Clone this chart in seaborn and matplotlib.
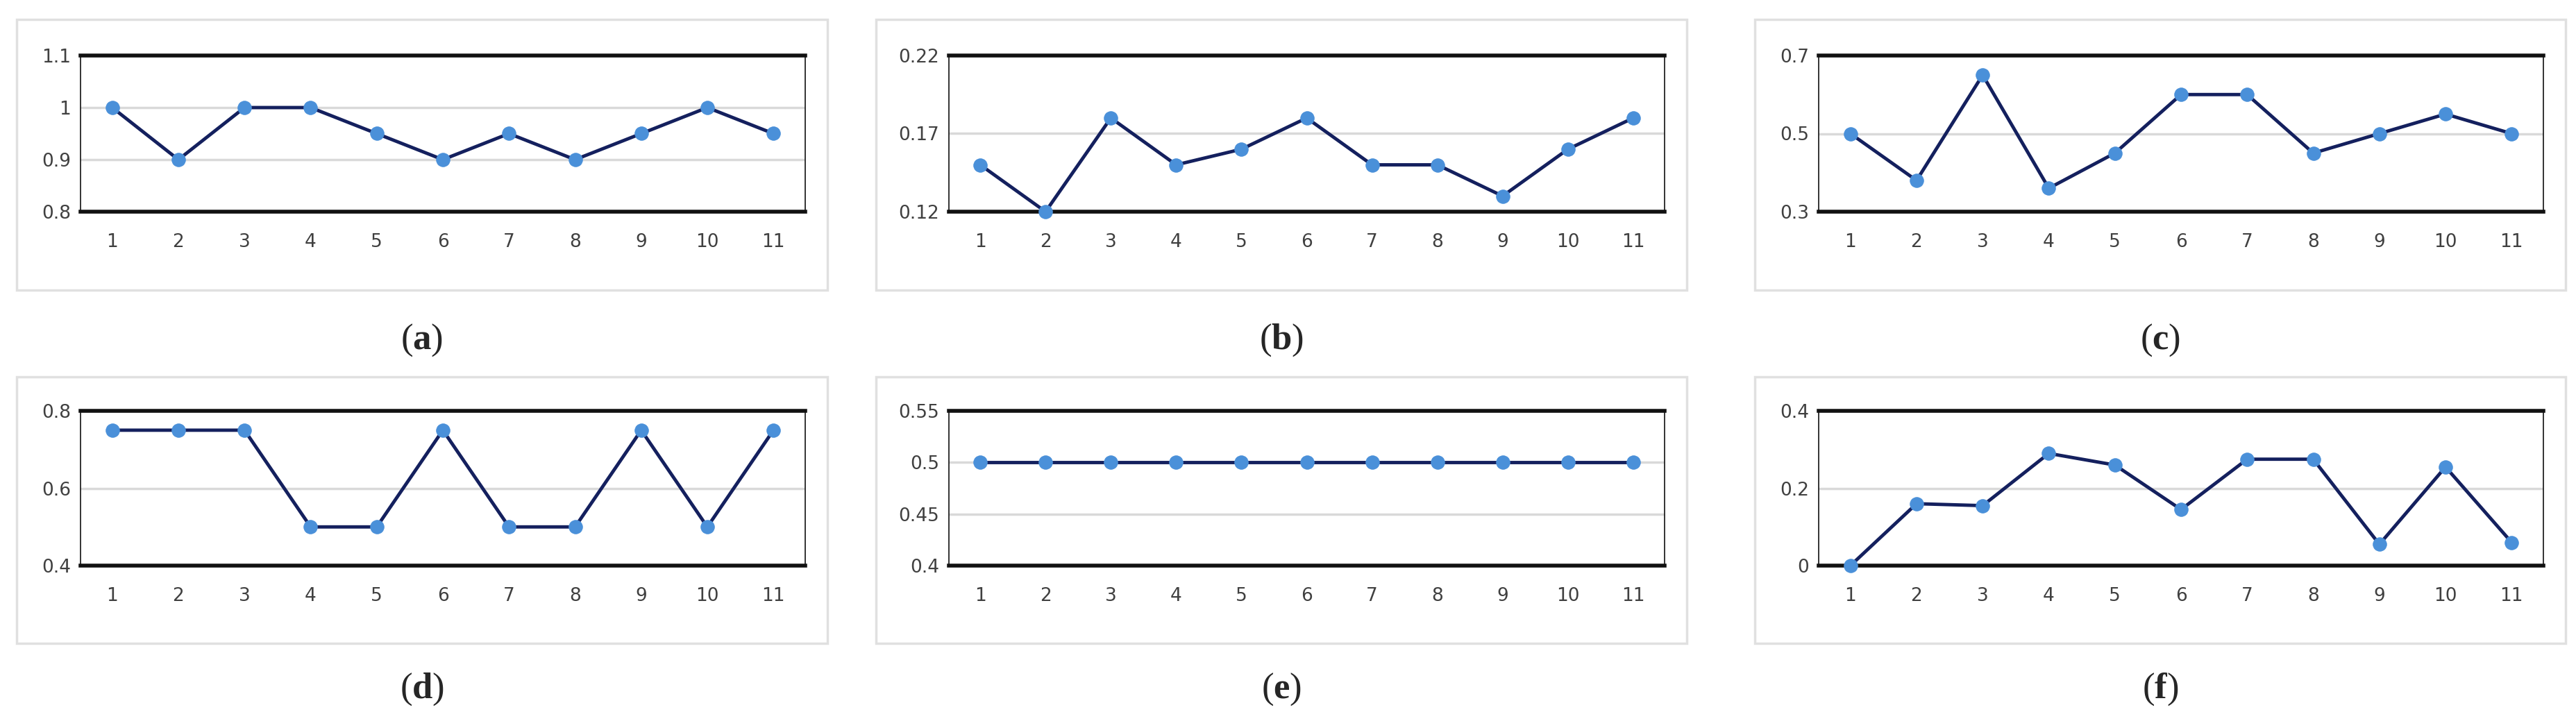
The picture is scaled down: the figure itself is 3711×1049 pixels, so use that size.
import matplotlib
matplotlib.use("Agg")
import matplotlib.pyplot as plt
import matplotlib.patches as mpatches
import seaborn as sns
import pandas as pd

sns.set_theme(style="white")
plt.rcParams['font.family'] = ['DejaVu Sans']
plt.rcParams['mathtext.fontset'] = 'custom'
plt.rcParams['mathtext.bf'] = 'Liberation Serif:bold'
plt.rcParams['mathtext.rm'] = 'Liberation Serif'

steps = list(range(1, 12))
vals_a = [1.0, 0.9, 1.0, 1.0, 0.95, 0.9, 0.95, 0.9, 0.95, 1.0, 0.95]
vals_b = [0.15, 0.12, 0.18, 0.15, 0.16, 0.18, 0.15, 0.15, 0.13, 0.16, 0.18]
vals_c = [0.5, 0.38, 0.65, 0.36, 0.45, 0.6, 0.6, 0.45, 0.5, 0.55, 0.5]
vals_d = [0.75, 0.75, 0.75, 0.5, 0.5, 0.75, 0.5, 0.5, 0.75, 0.5, 0.75]
vals_e = [0.5] * 11
vals_f = [0.0, 0.16, 0.155, 0.29, 0.26, 0.145, 0.275, 0.275, 0.055, 0.255, 0.06]

ticks_a = [0.8, 0.9, 1, 1.1]
ticks_b = [0.12, 0.17, 0.22]
ticks_c = [0.3, 0.5, 0.7]
ticks_d = [0.4, 0.6, 0.8]
ticks_e = [0.4, 0.45, 0.5, 0.55]
ticks_f = [0, 0.2, 0.4]

panels = [
    ("a", vals_a, ticks_a, ["0.8", "0.9", "1", "1.1"]),
    ("b", vals_b, ticks_b, ["0.12", "0.17", "0.22"]),
    ("c", vals_c, ticks_c, ["0.3", "0.5", "0.7"]),
    ("d", vals_d, ticks_d, ["0.4", "0.6", "0.8"]),
    ("e", vals_e, ticks_e, ["0.4", "0.45", "0.5", "0.55"]),
    ("f", vals_f, ticks_f, ["0", "0.2", "0.4"]),
]

W, H = 3711, 1049
fig = plt.figure(figsize=(W / 100, H / 100), dpi=100)

box_x = [24, 1262, 2528]
box_w = 1168
row_box = [(28, 418), (543, 927)]
row_ax = [(80, 305), (592, 815)]
label_y = [490, 993]

for i, (name, vals, ticks, tlabels) in enumerate(panels):
    r, c = divmod(i, 3)
    bx = box_x[c]
    by0, by1 = row_box[r]
    fig.patches.append(mpatches.Rectangle((bx / W, 1 - by1 / H), box_w / W, (by1 - by0) / H,
                                          transform=fig.transFigure, fill=False,
                                          edgecolor="#e0e0e0", linewidth=2.5))
    ax0 = bx + (92 if c != 1 else 105)
    ax1 = bx + 1136
    ay0, ay1 = row_ax[r]
    ax = fig.add_axes([ax0 / W, 1 - ay1 / H, (ax1 - ax0) / W, (ay1 - ay0) / H])
    df = pd.DataFrame({"step": steps, "value": vals})
    sns.lineplot(data=df, x="step", y="value", ax=ax, color="#14205e", linewidth=3.5,
                 marker="o", markersize=14, markerfacecolor="#4a90d9",
                 markeredgecolor="#4a90d9", zorder=3, clip_on=False)
    ax.set_xlim(0.52, 11.48)
    ax.set_ylim(ticks[0], ticks[-1])
    ax.set_yticks(ticks)
    ax.set_yticklabels(tlabels)
    ax.set_xticks(steps)
    ax.set_xlabel("")
    ax.set_ylabel("")
    ax.grid(axis="y", color="#d9d9d9", linewidth=2.5)
    ax.tick_params(axis="both", length=0, labelsize=19, colors="#404040", pad=22)
    ax.tick_params(axis="y", pad=10)
    for s in ["top", "bottom"]:
        ax.spines[s].set_linewidth(4)
        ax.spines[s].set_color("#111111")
    for s in ["left", "right"]:
        ax.spines[s].set_linewidth(1.2)
        ax.spines[s].set_color("#111111")
    fig.text((bx + box_w / 2) / W, 1 - label_y[r] / H, "($\\mathbf{" + name + "}$)",
             ha="center", va="center", fontsize=38, family="Liberation Serif")

fig.savefig("out.png", dpi=100)
